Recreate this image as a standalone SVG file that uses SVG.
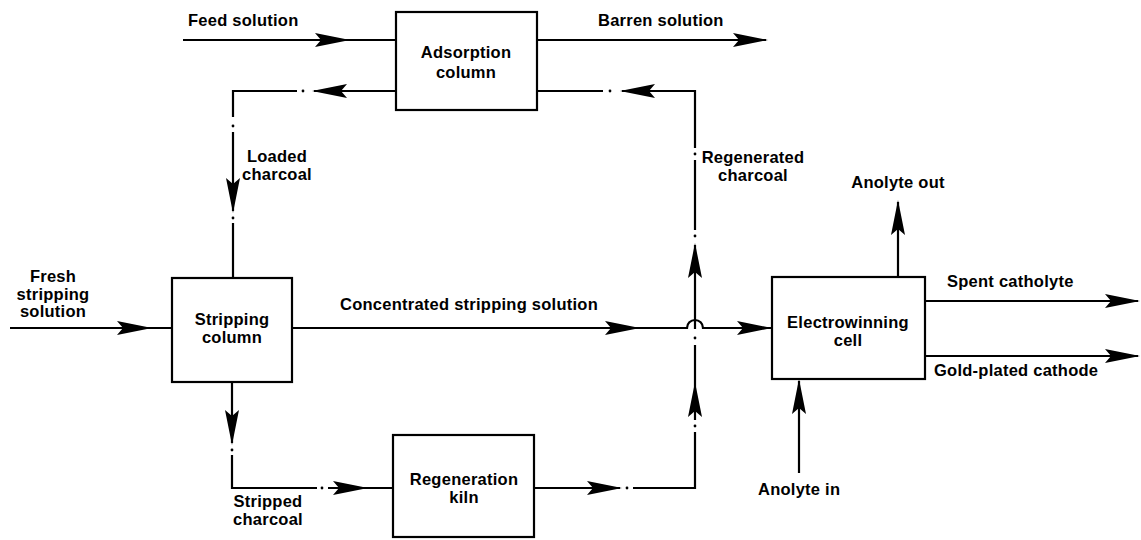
<svg xmlns="http://www.w3.org/2000/svg" xmlns:xlink="http://www.w3.org/1999/xlink" width="1141" height="540" viewBox="0 0 1141 540">
<style>
.box{fill:#fff;stroke:#000;stroke-width:2.2}
.ln{fill:none;stroke:#000;stroke-width:2.2}
.dot{fill:#000}
.ah{fill:#000}
text{font-family:"Liberation Sans",Arial,Helvetica,sans-serif;font-weight:bold;font-size:16.5px;letter-spacing:0.25px;fill:#000}
.c{text-anchor:middle}
</style>
<defs>
<path id="ah" d="M0,0 L-35,-7 L-29,0 L-35,7 Z"/>
</defs>
<rect width="1141" height="540" fill="#fff"/>
<g id="connectors">
<!-- Feed solution -->
<line class="ln" x1="183" y1="40" x2="397" y2="40"/>
<use href="#ah" class="ah" transform="translate(350,40)"/>
<!-- Barren solution -->
<line class="ln" x1="537" y1="40" x2="766" y2="40"/>
<use href="#ah" class="ah" transform="translate(768,40)"/>
<!-- Loaded charcoal -->
<polyline class="ln" points="397,91 314,91"/>
<use href="#ah" class="ah" transform="translate(312,91) rotate(180)"/>
<circle class="dot" cx="303" cy="91" r="1.4"/>
<polyline class="ln" points="297,91 233,91 233,117"/>
<circle class="dot" cx="233" cy="126" r="1.4"/>
<line class="ln" x1="233" y1="132" x2="233" y2="211"/>
<use href="#ah" class="ah" transform="translate(233,213) rotate(90)"/>
<circle class="dot" cx="233" cy="218" r="1.4"/>
<line class="ln" x1="233" y1="223" x2="233" y2="278"/>
<!-- Fresh stripping solution -->
<line class="ln" x1="10" y1="328" x2="172" y2="328"/>
<use href="#ah" class="ah" transform="translate(152,328)"/>
<!-- Concentrated stripping solution with hop -->
<path class="ln" d="M292,328 H687 a8,8 0 0 1 16,0 H772"/>
<use href="#ah" class="ah" transform="translate(640,328)"/>
<use href="#ah" class="ah" transform="translate(772,328)"/>
<!-- Stripped charcoal -->
<line class="ln" x1="232" y1="382" x2="232" y2="443"/>
<use href="#ah" class="ah" transform="translate(232,445) rotate(90)"/>
<circle class="dot" cx="232" cy="450" r="1.4"/>
<polyline class="ln" points="232,455 232,488 317,488"/>
<circle class="dot" cx="322" cy="488" r="1.4"/>
<line class="ln" x1="328" y1="488" x2="393" y2="488"/>
<use href="#ah" class="ah" transform="translate(368,488)"/>
<!-- Regenerated charcoal -->
<line class="ln" x1="534" y1="488" x2="620" y2="488"/>
<use href="#ah" class="ah" transform="translate(622,488)"/>
<circle class="dot" cx="627" cy="488" r="1.4"/>
<polyline class="ln" points="633,488 695,488 695,432"/>
<circle class="dot" cx="695" cy="426" r="1.4"/>
<line class="ln" x1="695" y1="420" x2="695" y2="345"/>
<use href="#ah" class="ah" transform="translate(695,382) rotate(-90)"/>
<circle class="dot" cx="695" cy="338" r="1.4"/>
<line class="ln" x1="695" y1="329" x2="695" y2="245"/>
<use href="#ah" class="ah" transform="translate(695,243) rotate(-90)"/>
<circle class="dot" cx="695" cy="236" r="1.4"/>
<line class="ln" x1="695" y1="230" x2="695" y2="160"/>
<circle class="dot" cx="695" cy="154" r="1.4"/>
<polyline class="ln" points="695,148 695,91 622,91"/>
<use href="#ah" class="ah" transform="translate(620,91) rotate(180)"/>
<circle class="dot" cx="610" cy="91" r="1.4"/>
<line class="ln" x1="603" y1="91" x2="537" y2="91"/>
<!-- Anolyte out -->
<line class="ln" x1="898" y1="277" x2="898" y2="202"/>
<use href="#ah" class="ah" transform="translate(898,200) rotate(-90)"/>
<!-- Spent catholyte -->
<line class="ln" x1="925" y1="301" x2="1138" y2="301"/>
<use href="#ah" class="ah" transform="translate(1140,301)"/>
<!-- Gold-plated cathode -->
<line class="ln" x1="925" y1="356" x2="1138" y2="356"/>
<use href="#ah" class="ah" transform="translate(1140,356)"/>
<!-- Anolyte in -->
<line class="ln" x1="799" y1="473" x2="799" y2="381"/>
<use href="#ah" class="ah" transform="translate(799,379) rotate(-90)"/>
</g>
<g id="adsorption">
<rect class="box" x="396" y="12" width="141" height="98"/>
<text class="c" x="466" y="58">Adsorption</text>
<text class="c" x="466" y="78">column</text>
</g>
<g id="stripping">
<rect class="box" x="172" y="278" width="120" height="104"/>
<text class="c" x="232" y="325">Stripping</text>
<text class="c" x="232" y="343">column</text>
</g>
<g id="kiln">
<rect class="box" x="393" y="435" width="141" height="102"/>
<text class="c" x="464" y="485">Regeneration</text>
<text class="c" x="464" y="503">kiln</text>
</g>
<g id="electrowinning">
<rect class="box" x="772" y="277" width="153" height="102"/>
<text class="c" x="848" y="328">Electrowinning</text>
<text class="c" x="848" y="346">cell</text>
</g>
<g id="labels">
<text x="188" y="26">Feed solution</text>
<text x="598" y="26">Barren solution</text>
<text class="c" x="277" y="162">Loaded</text>
<text class="c" x="277" y="180">charcoal</text>
<text class="c" x="753" y="163">Regenerated</text>
<text class="c" x="753" y="181">charcoal</text>
<text class="c" x="53" y="282">Fresh</text>
<text class="c" x="53" y="300">stripping</text>
<text class="c" x="53" y="317">solution</text>
<text x="340" y="310">Concentrated stripping solution</text>
<text class="c" x="268" y="507">Stripped</text>
<text class="c" x="268" y="525">charcoal</text>
<text class="c" x="898" y="188">Anolyte out</text>
<text x="947" y="287">Spent catholyte</text>
<text x="934" y="376">Gold-plated cathode</text>
<text x="758" y="495">Anolyte in</text>
</g>
</svg>
